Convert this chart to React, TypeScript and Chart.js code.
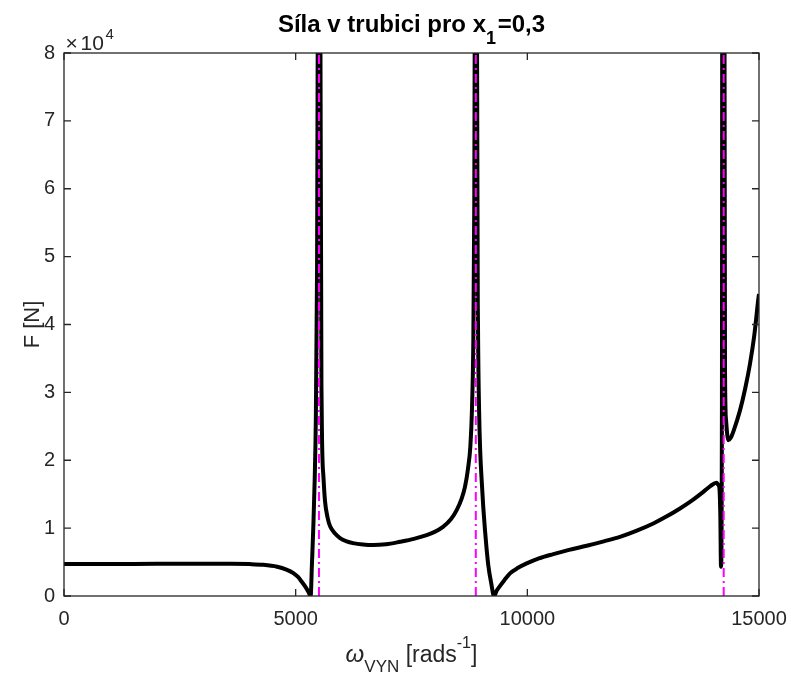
import React, { useEffect, useRef } from 'react';
import { Chart, registerables } from 'chart.js';

Chart.register(...registerables);

// ---- data ----
const omegaValues = [
  0, 1000, 2000, 3000, 3600, 4000, 4300, 4600, 4800, 4950, 5050, 5130, 5200, 5273, 5324,
  5350, 5380, 5410, 5435, 5458, 5475, 5495,
  5512, 5535, 5561, 5600, 5633, 5690, 5741, 5850, 5957, 6100, 6237, 6450, 6669, 6950, 7252,
  7550, 7827, 8000, 8180, 8350, 8475, 8580, 8654, 8720, 8770, 8805, 8835, 8852, 8865, 8882,
  8898, 8915, 8935, 8960, 8985, 9015, 9050, 9086, 9120, 9158, 9220, 9281, 9340, 9411, 9500,
  9626, 9800, 9986, 10250, 10561, 10900, 11281, 11650, 12000, 12350, 12719, 13000, 13295,
  13550, 13798, 13950, 14085, 14120, 14144, 14165, 14180, 14200, 14222,
  14248, 14256, 14268, 14290, 14336, 14390, 14450, 14590, 14700, 14806, 14900, 14986, 15000,
];
const forceValues = [
  4700, 4720, 4740, 4760, 4750, 4700, 4600, 4320, 3900, 3380, 2800, 2110, 1450, 640, 0,
  4500, 10000, 17000, 26000, 45000, 80000, 300000,
  300000, 80000, 28000, 17500, 14000, 11500, 10300, 9200, 8530, 8050, 7790, 7580, 7500, 7620, 7990,
  8420, 8970, 9450, 10190, 11300, 12650, 14300, 16070, 18800, 22000, 27500, 38000, 55000, 85000, 300000,
  300000, 80000, 40000, 27000, 21000, 17000, 13000, 9700, 7000, 4500, 1900, 0, 800, 1500, 2300,
  3340, 4150, 4800, 5550, 6180, 6800, 7400, 8050, 8720, 9600, 10690, 11700, 12900,
  14050, 15340, 16200, 16670, 16400, 16000, 12000, 4300, 28000, 300000,
  300000, 80000, 32000, 25800, 22940, 23300, 24300, 27350, 30500, 34220, 38500, 43780, 44500,
];
const resonanceOmegas = [5503, 8888, 14238];
const xTickValues = [0, 5000, 10000, 15000];
const xTickLabels = ['0', '5000', '10000', '15000'];
const yTickValues = [0, 10000, 20000, 30000, 40000, 50000, 60000, 70000, 80000];
const yTickLabels = ['0', '1', '2', '3', '4', '5', '6', '7', '8'];

const titleMain = 'Síla v trubici pro x';
const titleSub = '1';
const titleTail = '=0,3';
const yLabelText = 'F [N]';
const xLabelOmega = 'ω';
const xLabelSub = 'VYN';
const xLabelMain = ' [rads';
const xLabelSup = '-1';
const xLabelEnd = ']';
const exponentTimes = '×';
const exponentBase = '10';
const exponentSup = '4';

const FAMILY = "'Liberation Sans', Arial, Helvetica, sans-serif";
const AXIS_COLOR = '#262626';

type Run = { t: string; f: string; dy?: number };

function drawRuns(ctx: CanvasRenderingContext2D, runs: Run[], x: number, y: number, align: 'left' | 'center') {
  ctx.textAlign = 'left';
  ctx.textBaseline = 'alphabetic';
  let total = 0;
  const widths = runs.map((r) => {
    ctx.font = r.f;
    const w = ctx.measureText(r.t).width;
    total += w;
    return w;
  });
  let cx = align === 'center' ? x - total / 2 : x;
  runs.forEach((r, i) => {
    ctx.font = r.f;
    ctx.fillText(r.t, cx, y + (r.dy || 0));
    cx += widths[i];
  });
}

const decorPlugin = {
  id: 'decor',
  afterDatasetsDraw(chart: any) {
    const { ctx, chartArea: a, scales } = chart;
    const xs = scales.x;
    const ys = scales.y;
    ctx.save();
    ctx.strokeStyle = AXIS_COLOR;
    ctx.lineWidth = 1.3;
    ctx.strokeRect(a.left, a.top, a.right - a.left, a.bottom - a.top);
    const tl = 7;
    ctx.beginPath();
    xTickValues.forEach((v) => {
      const px = xs.getPixelForValue(v);
      ctx.moveTo(px, a.bottom);
      ctx.lineTo(px, a.bottom - tl);
      ctx.moveTo(px, a.top);
      ctx.lineTo(px, a.top + tl);
    });
    yTickValues.forEach((v) => {
      const py = ys.getPixelForValue(v);
      ctx.moveTo(a.left, py);
      ctx.lineTo(a.left + tl, py);
      ctx.moveTo(a.right, py);
      ctx.lineTo(a.right - tl, py);
    });
    ctx.stroke();

    const cxPlot = (a.left + a.right) / 2;
    const cyPlot = (a.top + a.bottom) / 2;

    // title
    ctx.fillStyle = '#000000';
    drawRuns(
      ctx,
      [
        { t: titleMain, f: `bold 24px ${FAMILY}` },
        { t: titleSub, f: `bold 18px ${FAMILY}`, dy: 12 },
        { t: ' ', f: `bold 6px ${FAMILY}` },
        { t: titleTail, f: `bold 24px ${FAMILY}` },
      ],
      cxPlot,
      32,
      'center'
    );

    ctx.fillStyle = AXIS_COLOR;
    // x label
    drawRuns(
      ctx,
      [
        { t: xLabelOmega, f: `italic 24px ${FAMILY}` },
        { t: xLabelSub, f: `17px ${FAMILY}`, dy: 10 },
        { t: xLabelMain, f: `23px ${FAMILY}` },
        { t: xLabelSup, f: `16px ${FAMILY}`, dy: -14 },
        { t: xLabelEnd, f: `23px ${FAMILY}` },
      ],
      cxPlot,
      662,
      'center'
    );

    // y label
    ctx.save();
    ctx.translate(39, cyPlot);
    ctx.rotate(-Math.PI / 2);
    drawRuns(ctx, [{ t: yLabelText, f: `22px ${FAMILY}` }], 0, 0, 'center');
    ctx.restore();

    // exponent
    drawRuns(ctx, [{ t: exponentTimes, f: `21px ${FAMILY}` }], a.left + 1.5, 50, 'left');
    drawRuns(ctx, [{ t: exponentBase, f: `21px ${FAMILY}` }], a.left + 16.5, 50, 'left');
    drawRuns(ctx, [{ t: exponentSup, f: `15px ${FAMILY}` }], a.left + 41.5, 39, 'left');
    ctx.restore();
  },
};

export default function App() {
  const canvasRef = useRef<HTMLCanvasElement | null>(null);

  useEffect(() => {
    const canvas = canvasRef.current;
    if (!canvas) return;
    const curve = omegaValues.map((x, i) => ({ x, y: forceValues[i] }));
    const poleSets = resonanceOmegas.map((r) => ({
      label: 'rez',
      data: [
        { x: r, y: 0 },
        { x: r, y: 80000 },
      ],
      borderColor: '#FF00FF',
      borderWidth: 2,
      borderDash: [9, 4, 2, 4],
      pointRadius: 0,
      fill: false,
      order: 0,
    }));
    const chart = new Chart(canvas, {
      type: 'line',
      data: {
        datasets: [
          ...poleSets,
          {
            label: 'F',
            data: curve,
            borderColor: '#000000',
            borderWidth: 4,
            pointRadius: 0,
            fill: false,
            cubicInterpolationMode: 'monotone',
            order: 1,
          },
        ],
      },
      options: {
        animation: false,
        responsive: false,
        maintainAspectRatio: false,
        layout: { padding: { left: 0, top: 53, right: 32, bottom: 0 } },
        plugins: {
          legend: { display: false },
          title: { display: false },
          tooltip: { enabled: false },
        },
        scales: {
          x: {
            type: 'linear',
            min: 0,
            max: 15000,
            afterBuildTicks: (s: any) => {
              s.ticks = xTickValues.map((v) => ({ value: v }));
            },
            afterFit: (s: any) => {
              s.height = 77;
              s.paddingLeft = 0;
              s.paddingRight = 0;
            },
            grid: { display: false, drawTicks: false },
            border: { display: false },
            ticks: {
              autoSkip: false,
              maxRotation: 0,
              padding: 11,
              color: AXIS_COLOR,
              font: { family: FAMILY, size: 20 },
              callback: (_v: any, i: number) => xTickLabels[i],
            },
          },
          y: {
            type: 'linear',
            min: 0,
            max: 80000,
            afterBuildTicks: (s: any) => {
              s.ticks = yTickValues.map((v) => ({ value: v }));
            },
            afterFit: (s: any) => {
              s.width = 64;
              s.paddingTop = 0;
              s.paddingBottom = 0;
            },
            grid: { display: false, drawTicks: false },
            border: { display: false },
            ticks: {
              autoSkip: false,
              padding: 9,
              color: AXIS_COLOR,
              font: { family: FAMILY, size: 20 },
              callback: (_v: any, i: number) => yTickLabels[i],
            },
          },
        },
      },
      plugins: [decorPlugin],
    } as any);
    return () => {
      chart.destroy();
    };
  }, []);

  return (
    <div style={{ position: 'fixed', left: 0, top: 0, width: 791, height: 673, background: '#ffffff' }}>
      <canvas ref={canvasRef} width={791} height={673} style={{ display: 'block' }} />
    </div>
  );
}
